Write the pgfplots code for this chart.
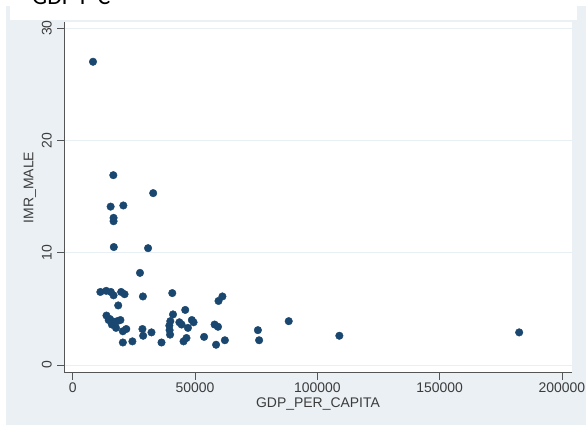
\documentclass[border=0pt]{standalone}
\usepackage{pgfplots}
\pgfplotsset{compat=1.18}
\usepackage{fontspec}
\setmainfont{Liberation Sans}
\newfontfamily\calibri{Carlito}
\definecolor{bgc}{RGB}{234,240,244}
\definecolor{navy}{RGB}{26,71,111}
\definecolor{gridc}{RGB}{232,240,243}
\definecolor{axc}{RGB}{85,85,85}
\definecolor{txc}{RGB}{60,60,60}
\begin{document}
\begin{tikzpicture}[x=1bp,y=1bp]
\useasboundingbox (0,0) rectangle (586,425);
\fill[bgc] (6,0) rectangle (586,419);
\fill[white] (10,405) rectangle (577,425);
\begin{scope}
\clip (0,0) rectangle (586,425);
\node[anchor=base west, inner sep=0, font=\calibri\fontsize{24}{28}\selectfont] at (32,420) {GDP P C};
\end{scope}
\begin{axis}[
  at={(64bp,52.3bp)}, anchor=south west,
  scale only axis, width=508bp, height=350.7bp,
  xmin=-3560, xmax=204100, ymin=-0.69, ymax=30.54,
  axis background/.style={fill=white},
  axis x line*=bottom, axis y line*=left,
  axis line style={-, draw=axc, line width=0.9pt},
  tick align=outside, major tick length=7bp,
  tick style={draw=axc, line width=0.7pt},
  xtick={0,50000,100000,150000,200000},
  ytick={0,10,20,30},
  ymajorgrids, grid style={draw=gridc, line width=0.8pt},
  scaled x ticks=false,
  /pgf/number format/fixed,
  /pgf/number format/assume math mode=true,
  /pgf/number format/1000 sep={},
  ticklabel style={font=\fontsize{14}{16}\selectfont, text=txc},
  yticklabel style={rotate=90, anchor=south, inner sep=0pt},
  yticklabel shift=5bp,
  xlabel={GDP\_PER\_CAPITA}, ylabel={IMR\_MALE},
  label style={font=\fontsize{14}{16}\selectfont, text=txc},
  xlabel style={at={(axis description cs:0.5,-0.088)}, anchor=center},
  ylabel style={at={(axis description cs:-0.067,0.528)}, anchor=center},
  clip=false,
]
\addplot[only marks, mark=*, mark size=3.8pt, mark options={fill=navy, draw=navy}] table {
x y
8300 27.0
16600 16.9
32900 15.3
15500 14.1
20700 14.2
16700 13.1
16700 12.8
16800 10.5
30800 10.4
27500 8.2
11300 6.5
13700 6.6
15600 6.5
16700 6.2
19800 6.5
21200 6.3
18600 5.3
28700 6.1
40700 6.4
13800 4.4
15100 4.1
16200 3.9
14700 4.0
16000 3.6
18200 3.9
19500 4.0
17700 3.3
20500 3.0
21900 3.2
20500 2.0
24400 2.1
28500 3.2
28800 2.6
32200 2.9
36300 2.0
41000 4.5
39900 3.9
39500 3.5
39600 3.1
39800 2.7
43600 3.8
44500 3.6
46000 4.9
47100 3.3
48700 4.0
49400 3.8
45300 2.1
46500 2.4
53700 2.5
58000 3.6
59400 3.4
58600 1.8
62200 2.2
59600 5.7
61200 6.1
75700 3.1
76200 2.2
88300 3.9
109000 2.6
182500 2.9
};
\end{axis}
\end{tikzpicture}
\end{document}
